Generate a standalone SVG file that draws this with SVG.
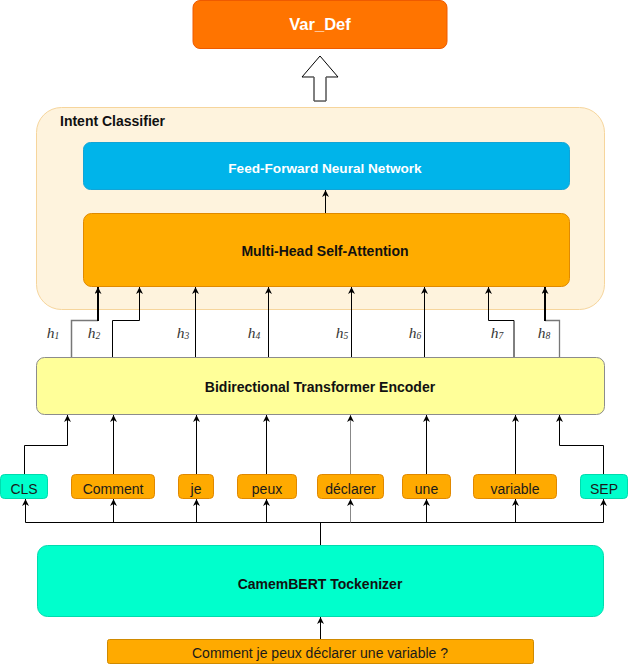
<svg xmlns="http://www.w3.org/2000/svg" width="629" height="664" viewBox="0 0 629 664">
<style>
text{font-family:"Liberation Sans",Arial,sans-serif;text-anchor:middle}
.b{font-weight:bold;font-size:14px}
.t{font-size:14px;fill:#1a1a1a}
.h{font-family:"Liberation Serif","Times New Roman",serif;font-style:italic;font-size:15.5px;fill:#333}
.c{fill:none;stroke:#000;stroke-width:1;marker-end:url(#ah)}
.g{stroke:#888}
.k{stroke-width:2}
.tok{fill:#ffaa00;stroke:#e08800}
.teal{fill:#00ffcc;stroke:#00dcae}
</style>
<defs>
<marker id="ah" viewBox="0 0 7 7" markerWidth="7" markerHeight="7" refX="7" refY="3.5" orient="auto" markerUnits="userSpaceOnUse">
<path d="M0,0 L7,3.5 L0,7 L2,3.5 Z" fill="#000"/>
</marker>
</defs>
<rect width="629" height="664" fill="#fff"/>

<g id="var_def">
<rect x="193" y="0.5" width="254" height="48" rx="7" fill="#ff7400" stroke="#ee5a00"/>
<text x="320" y="30" class="b" style="font-size:16.5px" fill="#fff">Var_Def</text>
</g>

<g id="output_arrow">
<polygon points="320,56 302,77 314,77 314,101 326,101 326,77 338,77" fill="#fff" stroke="#000" stroke-width="1"/>
<line x1="302.5" y1="77.5" x2="313.5" y2="77.5" stroke="#888"/>
<line x1="326.5" y1="77.5" x2="337.5" y2="77.5" stroke="#888"/>
<line x1="314.5" y1="100.5" x2="325.5" y2="100.5" stroke="#888"/>
</g>

<g id="intent_classifier">
<rect x="36.5" y="107.5" width="568" height="202" rx="25" fill="#fef3dd" stroke="#f6d59c"/>
<text x="60" y="126" class="b" style="text-anchor:start" fill="#111">Intent Classifier</text>
</g>

<g id="ffnn">
<rect x="83.5" y="142.5" width="486" height="47" rx="7" fill="#00b4ea" stroke="#12a4d6"/>
<text x="325" y="173" class="t" style="fill:#fff;font-weight:bold;font-size:13.6px">Feed-Forward Neural Network</text>
</g>

<g id="mhsa">
<rect x="83.5" y="213.5" width="486" height="73" rx="8" fill="#ffac00" stroke="#e08a00"/>
<text x="325" y="256" class="b" fill="#111">Multi-Head Self-Attention</text>
</g>

<g id="encoder">
<rect x="36.5" y="357.5" width="568" height="57" rx="8" fill="#ffff99" stroke="#8c8c8c"/>
<text x="320" y="392" class="b" fill="#111">Bidirectional Transformer Encoder</text>
</g>

<g id="tokenizer">
<rect x="37.5" y="545.5" width="566" height="71" rx="10" fill="#00ffcc" stroke="#00dcae"/>
<text x="320" y="589" class="b" fill="#111">CamemBERT Tockenizer</text>
</g>

<g id="input">
<rect x="107.5" y="639.5" width="426" height="24" rx="2" fill="#ffaa00" stroke="#d08a00"/>
<text x="320" y="658" class="t">Comment je peux déclarer une variable ?</text>
</g>

<g id="tok_cls"><rect x="0.5" y="474.5" width="47" height="24" rx="4" class="teal"/><text x="24" y="494" class="t">CLS</text></g>
<g id="tok_comment"><rect x="71.5" y="474.5" width="83" height="24" rx="4" class="tok"/><text x="113" y="494" class="t">Comment</text></g>
<g id="tok_je"><rect x="178.5" y="474.5" width="35" height="24" rx="4" class="tok"/><text x="196" y="494" class="t">je</text></g>
<g id="tok_peux"><rect x="237.5" y="474.5" width="59" height="24" rx="4" class="tok"/><text x="267" y="494" class="t">peux</text></g>
<g id="tok_declarer"><rect x="317.5" y="474.5" width="66" height="24" rx="4" class="tok"/><text x="350.5" y="494" class="t">déclarer</text></g>
<g id="tok_une"><rect x="402.5" y="474.5" width="48" height="24" rx="4" class="tok"/><text x="426.5" y="494" class="t">une</text></g>
<g id="tok_variable"><rect x="473.5" y="474.5" width="83" height="24" rx="4" class="tok"/><text x="515" y="494" class="t">variable</text></g>
<g id="tok_sep"><rect x="580.5" y="474.5" width="47" height="24" rx="4" class="teal"/><text x="604" y="494" class="t">SEP</text></g>

<g id="h_labels">
<text x="53" y="338" class="h">h<tspan font-size="9.5" dy="1">1</tspan></text>
<text x="94" y="338" class="h">h<tspan font-size="9.5" dy="1">2</tspan></text>
<text x="183" y="338" class="h">h<tspan font-size="9.5" dy="1">3</tspan></text>
<text x="254" y="338" class="h">h<tspan font-size="9.5" dy="1">4</tspan></text>
<text x="342" y="338" class="h">h<tspan font-size="9.5" dy="1">5</tspan></text>
<text x="415" y="338" class="h">h<tspan font-size="9.5" dy="1">6</tspan></text>
<text x="497" y="338" class="h">h<tspan font-size="9.5" dy="1">7</tspan></text>
<text x="544" y="338" class="h">h<tspan font-size="9.5" dy="1">8</tspan></text>
</g>

<g id="connectors">
<path d="M320.5,639 V617" class="c"/>
<path d="M320.5,545 V522.5 M25.5,522.5 H603.5" fill="none" stroke="#000"/>
<path d="M25.5,522.5 V499" class="c"/>
<path d="M113.5,522.5 V499" class="c"/>
<path d="M196.5,522.5 V499" class="c"/>
<path d="M266.5,522.5 V499" class="c"/>
<path d="M350.5,522.5 V499" class="c g"/>
<path d="M426.5,522.5 V499" class="c"/>
<path d="M515.5,522.5 V499" class="c"/>
<path d="M603.5,522.5 V499" class="c"/>
<path d="M24.5,474 V445.5 H67.5 V415" class="c"/>
<path d="M113.5,474 V415" class="c"/>
<path d="M196.5,474 V415" class="c"/>
<path d="M266.5,474 V415" class="c"/>
<path d="M350.5,474 V415" class="c g"/>
<path d="M426.5,474 V415" class="c"/>
<path d="M515.5,474 V415" class="c"/>
<path d="M603.5,474 V445.5 H559.5 V415" class="c"/>
<path d="M71.5,357 V320.5 H98" fill="none" stroke="#777" stroke-width="1.5"/>
<path d="M98,321 V287" class="c k"/>
<path d="M112.5,357 V320.5 H139.5 V287" class="c"/>
<path d="M195.5,357 V287" class="c"/>
<path d="M268.5,357 V287" class="c"/>
<path d="M351.5,357 V287" class="c"/>
<path d="M424.5,357 V287" class="c"/>
<path d="M514,357 V320.5 H488.5 V287" class="c" stroke-width="1.3"/>
<path d="M559.5,357 V320.5 H545" fill="none" stroke="#777" stroke-width="1.3"/>
<path d="M545,321 V287" class="c k"/>
<path d="M325.5,213 V190" class="c"/>
</g>
</svg>
